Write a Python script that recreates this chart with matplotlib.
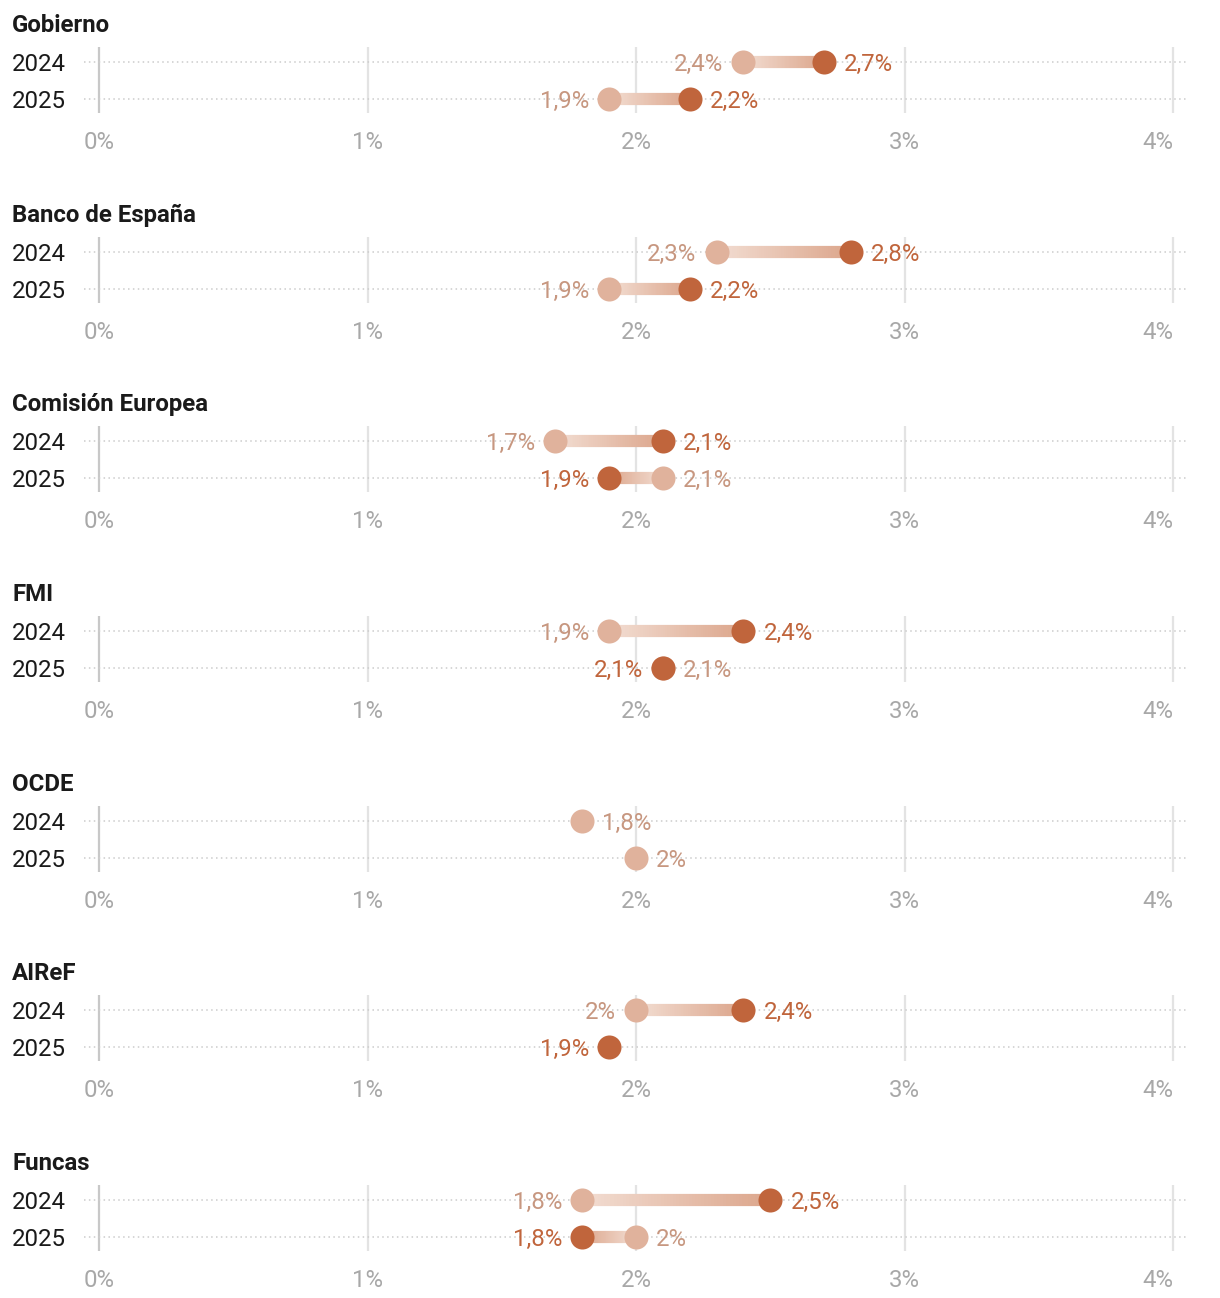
import matplotlib
matplotlib.use("Agg")
import matplotlib.pyplot as plt
import numpy as np
from matplotlib.collections import LineCollection
from matplotlib.colors import to_rgb

plt.rcParams['font.family'] = ['Roboto', 'DejaVu Sans']

# ---- data ----
institutions = ["Gobierno", "Banco de España", "Comisión Europea", "FMI", "OCDE", "AIReF", "Funcas"]
years = ["2024", "2025"]
old_2024 = [2.4, 2.3, 1.7, 1.9, 1.8, 2.0, 1.8]
new_2024 = [2.7, 2.8, 2.1, 2.4, None, 2.4, 2.5]
old_2025 = [1.9, 1.9, 2.1, 2.1, 2.0, None, 2.0]
new_2025 = [2.2, 2.2, 1.9, 2.1, None, 1.9, 1.8]
x_ticks = [0, 1, 2, 3, 4]
x_tick_labels = ["0%", "1%", "2%", "3%", "4%"]

# ---- style ----
W, H = 1220, 1298
DARK = "#c0653c"
LIGHT = "#e0b29c"
DARK_TXT = "#c0653c"
LIGHT_TXT = "#c79780"
LINE_START = np.array(to_rgb("#f2ddd2"))
LINE_END = np.array(to_rgb("#dca68c"))
FS = 17.3

fig = plt.figure(figsize=(W / 100, H / 100), dpi=100)
fig.patch.set_facecolor("white")

def fx(px):
    return px / W

def fy(py):
    return 1 - py / H

def fmt(v):
    if abs(v - round(v)) < 1e-9:
        return f"{int(round(v))}%"
    return f"{v:.1f}".replace(".", ",") + "%"

ax_left, ax_right = 84, 1186
x0_px, unit_px = 99, 268.5
xlim = ((ax_left - x0_px) / unit_px, (ax_right - x0_px) / unit_px)
spacing = 189.67

for k, name in enumerate(institutions):
    top = 47 + k * spacing
    hgt = 66
    ax = fig.add_axes([fx(ax_left), fy(top + hgt), fx(ax_right - ax_left), hgt / H])
    ax.set_xlim(*xlim)
    ax.set_ylim(1 + 14 / 37, -15 / 37)
    ax.axis("off")
    # vertical gridlines
    for t in x_ticks:
        ax.axvline(t, color="#c8c8c8" if t == 0 else "#e3e3e3", lw=1.6, zorder=0)
    # dotted row lines
    for r in range(2):
        ax.axhline(r, color="#cccccc", lw=1.1, ls=(0, (1, 2.2)), zorder=0.5)

    rows = [(old_2024[k], new_2024[k]), (old_2025[k], new_2025[k])]
    for r, (o, n) in enumerate(rows):
        if o is not None and n is not None and o != n:
            m = 60
            xs = np.linspace(o, n, m + 1)
            segs = [[(xs[i], r), (xs[i + 1], r)] for i in range(m)]
            tt = np.linspace(0, 1, m)
            cols = [tuple(LINE_START + (LINE_END - LINE_START) * t) for t in tt]
            lc = LineCollection(segs, colors=cols, linewidths=8.8, capstyle="butt", zorder=2)
            ax.add_collection(lc)
        if o is not None:
            ax.scatter([o], [r], s=300, color=LIGHT, zorder=3, linewidths=0)
        if n is not None:
            ax.scatter([n], [r], s=300, color=DARK, zorder=4, linewidths=0)
        # labels
        off = 14.5
        if o is not None and n is not None:
            if n <= o:
                n_side, o_side = -1, 1
            else:
                n_side, o_side = 1, -1
        elif o is None:
            n_side, o_side = -1, None
        else:
            n_side, o_side = None, 1
        for v, side, c in [(o, o_side, LIGHT_TXT), (n, n_side, DARK_TXT)]:
            if v is None:
                continue
            ax.annotate(fmt(v), (v, r), xytext=(side * off, 0), textcoords="offset points",
                        ha="left" if side > 0 else "right", va="center_baseline",
                        fontsize=FS, color=c, zorder=5, annotation_clip=False)

    # title and year labels
    fig.text(fx(12), fy(23 + k * spacing), name, fontsize=FS, fontweight="bold",
             color="#1a1a1a", ha="left", va="center_baseline")
    for r, yl in enumerate(years):
        ypx = top + 15 + r * 37
        fig.text(fx(12), fy(ypx), yl, fontsize=FS, color="#1a1a1a", ha="left", va="center_baseline")
    # tick labels
    for t, lab in zip(x_ticks, x_tick_labels):
        xp = x0_px + t * unit_px
        ha = "right" if t == 4 else "center"
        fig.text(fx(xp), fy(top + 93), lab, fontsize=FS, color="#a8a8a8",
                 ha=ha, va="center_baseline")

fig.savefig("out.png", dpi=100, facecolor="white")
